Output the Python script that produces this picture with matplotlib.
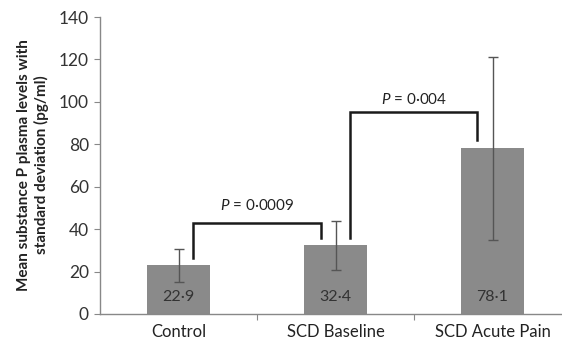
import matplotlib
matplotlib.use("Agg")
import matplotlib.pyplot as plt

categories = ["Control", "SCD Baseline", "SCD Acute Pain"]
means = [22.9, 32.4, 78.1]
sds = [7.6, 11.6, 43.2]
value_labels = ["22·9", "32·4", "78·1"]
y_ticks = [0, 20, 40, 60, 80, 100, 120, 140]
p_labels = ["0·0009", "0·004"]

FONT = "Lato"
plt.rcParams["font.family"] = [FONT, "DejaVu Sans"]
plt.rcParams["mathtext.fontset"] = "custom"
plt.rcParams["mathtext.it"] = FONT + ":italic"
plt.rcParams["mathtext.rm"] = FONT

W, H = 562, 341
fig = plt.figure(figsize=(W / 100, H / 100), dpi=100)
left, right, top, bottom = 100, 562, 17, 314
ax = fig.add_axes([left / W, 1 - bottom / H, (right - left) / W, (bottom - top) / H])

x = list(range(len(categories)))
ax.bar(x, means, width=0.4, color="#8a8a8a", zorder=2)
ax.errorbar(x, means, yerr=sds, fmt="none", ecolor="#555555", elinewidth=1.0,
            capsize=3.5, capthick=1.0, zorder=3)

for xi, lab in zip(x, value_labels):
    ax.text(xi, 8, lab, ha="center", va="center", fontsize=11.5, color="#333333", zorder=4)

# significance brackets
br1 = ([0.095, 0.095, 0.91, 0.91], [26.4, 42.9, 42.9, 35.8])
br2 = ([1.095, 1.095, 1.90, 1.90], [35.8, 95.3, 95.3, 82.1])
for bx, by in (br1, br2):
    ax.plot(bx, by, color="#1a1a1a", lw=1.8, solid_joinstyle="miter", zorder=5)
ax.text(0.50, 51, "$P$ = " + p_labels[0], ha="center", va="center", fontsize=11, color="#222222")
ax.text(1.50, 101, "$P$ = " + p_labels[1], ha="center", va="center", fontsize=11, color="#222222")

ax.set_xlim(-0.5, -0.5 + (right - left) / 157)
ax.set_ylim(0, 140)
ax.set_yticks(y_ticks)
ax.set_yticklabels([str(v) for v in y_ticks], fontsize=12.5, color="#333333")
ax.set_xticks([0.5, 1.5])
ax.set_xticklabels([])
ax.set_xticks(x, minor=True)
ax.set_xticklabels(categories, minor=True, fontsize=12, color="#222222")
ax.tick_params(axis="x", which="minor", length=0, pad=7)
ax.tick_params(axis="x", which="major", length=4, color="#888888", direction="out")
ax.tick_params(axis="y", length=4, color="#888888", direction="out", pad=4)

for s in ("top", "right"):
    ax.spines[s].set_visible(False)
for s in ("left", "bottom"):
    ax.spines[s].set_color("#888888")
    ax.spines[s].set_linewidth(1.0)

fig.text(33 / W, 1 - 165 / H, "Mean substance P plasma levels with\nstandard deviation (pg/ml)",
         rotation=90, ha="center", va="center", fontsize=11, fontweight="bold",
         color="#222222", linespacing=1.25)

fig.savefig("out.png", dpi=100)
